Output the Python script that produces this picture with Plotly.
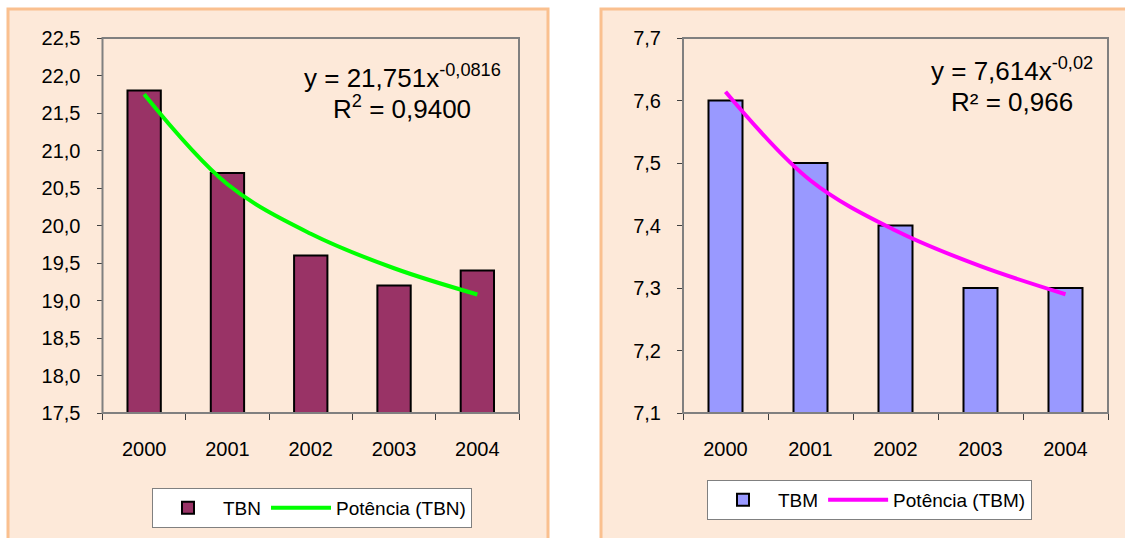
import plotly.graph_objects as go

# data
YEARS = ["2000", "2001", "2002", "2003", "2004"]
TBN = [21.8, 20.7, 19.6, 19.2, 19.4]
TBN_TREND = [21.75, 20.55, 19.89, 19.43, 19.08]
TBM = [7.6, 7.5, 7.4, 7.3, 7.3]
TBM_TREND = [7.614, 7.472, 7.392, 7.335, 7.290]

# plotting constants
W = 1125
H = 538
FONT = "Liberation Sans, Arial, sans-serif"
PANEL_FILL = "#FDE9D9"
PANEL_LINE = "#FAC08F"
FRAME = "#808080"


def px_x(p):
    # screen pixel -> paper fraction
    return p / W


def px_y(p):
    return 1 - p / H


def add_panel(fig, x0, x1):
    # peach background box behind each chart
    fig.add_shape(
        type="rect", xref="paper", yref="paper",
        x0=px_x(x0), x1=px_x(x1), y0=px_y(560), y1=px_y(9),
        fillcolor=PANEL_FILL, line=dict(color=PANEL_LINE, width=3),
        layer="below",
    )


def add_chart(fig, n, values, trend, bar_colour, line_colour, name, legend):
    xa = "x" if n == 1 else "x%d" % n
    ya = "y" if n == 1 else "y%d" % n
    fig.add_trace(
        go.Bar(
            x=YEARS, y=values, name=name, xaxis=xa, yaxis=ya,
            marker=dict(color=bar_colour, line=dict(color="black", width=2)),
            legend=legend,
        )
    )
    fig.add_trace(
        go.Scatter(
            x=YEARS, y=trend, name="Potência (%s)" % name, xaxis=xa, yaxis=ya,
            mode="lines", line=dict(color=line_colour, width=4, shape="spline"),
            legend=legend,
        )
    )
    return fig


fig = go.Figure()
add_panel(fig, 8, 548)
add_panel(fig, 601, 1150)

add_chart(fig, 1, TBN, TBN_TREND, "#993366", "#00FF00", "TBN", "legend")
add_chart(fig, 2, TBM, TBM_TREND, "#9999FF", "#FF00FF", "TBM", "legend2")

# plot area frames
for x0, x1 in [(102.5, 519), (683, 1108)]:
    fig.add_shape(
        type="rect", xref="paper", yref="paper",
        x0=px_x(x0), x1=px_x(x1), y0=px_y(413), y1=px_y(38),
        line=dict(color=FRAME, width=2), fillcolor="rgba(0,0,0,0)",
    )

xaxis_style = dict(
    type="category", showgrid=False, showline=True, linecolor=FRAME, linewidth=1,
    ticks="outside", ticklen=6, tickcolor="#404040", tickson="boundaries",
    ticklabelstandoff=18, tickfont=dict(size=20, color="black"),
    automargin=False,
)
yaxis_style = dict(
    showgrid=False, showline=True, linecolor="#404040", linewidth=1,
    ticks="outside", ticklen=5, tickcolor="#404040", tickformat=".1f",
    ticklabelstandoff=12, tickfont=dict(size=20, color="black"),
    zeroline=False, automargin=False,
)

y_dom = [px_y(413), px_y(38)]
fig.update_layout(
    xaxis=dict(xaxis_style, domain=[px_x(102.5), px_x(519)], anchor="y"),
    yaxis=dict(yaxis_style, domain=y_dom, range=[17.5, 22.5], dtick=0.5, anchor="x"),
    xaxis2=dict(xaxis_style, domain=[px_x(683), px_x(1108)], anchor="y2"),
    yaxis2=dict(yaxis_style, domain=y_dom, range=[7.1, 7.7], dtick=0.1, anchor="x2"),
)

# trendline equations
eq = [
    (402, 76, "y = 21,751x<sup>-0,0816</sup>"),
    (402, 107, "R<sup>2</sup> = 0,9400"),
    (1012, 70, "y = 7,614x<sup>-0,02</sup>"),
    (1012, 102, "R² = 0,966"),
]
for x, y, text in eq:
    fig.add_annotation(
        x=px_x(x), y=px_y(y), xref="paper", yref="paper", text=text,
        showarrow=False, xanchor="center", yanchor="middle",
        font=dict(size=26, color="black", family=FONT),
    )

legend_style = dict(
    orientation="h", xanchor="left", yanchor="top",
    bgcolor="white", bordercolor=FRAME, borderwidth=1,
    itemwidth=60,
    font=dict(size=19, color="black", family=FONT),
)
fig.update_layout(
    legend=dict(legend_style, x=px_x(152), y=px_y(488)),
    legend2=dict(legend_style, x=px_x(707), y=px_y(480)),
    width=W, height=H,
    margin=dict(l=0, r=0, t=0, b=0),
    paper_bgcolor="white", plot_bgcolor="white",
    bargap=0.6, separators=",.",
    font=dict(family=FONT, color="black"),
)

# drop the page's default body margin so the figure fills the window
fig.write_html(
    "out.html",
    config={"displayModeBar": False},
    post_script="document.body.style.margin = '0';",
)
